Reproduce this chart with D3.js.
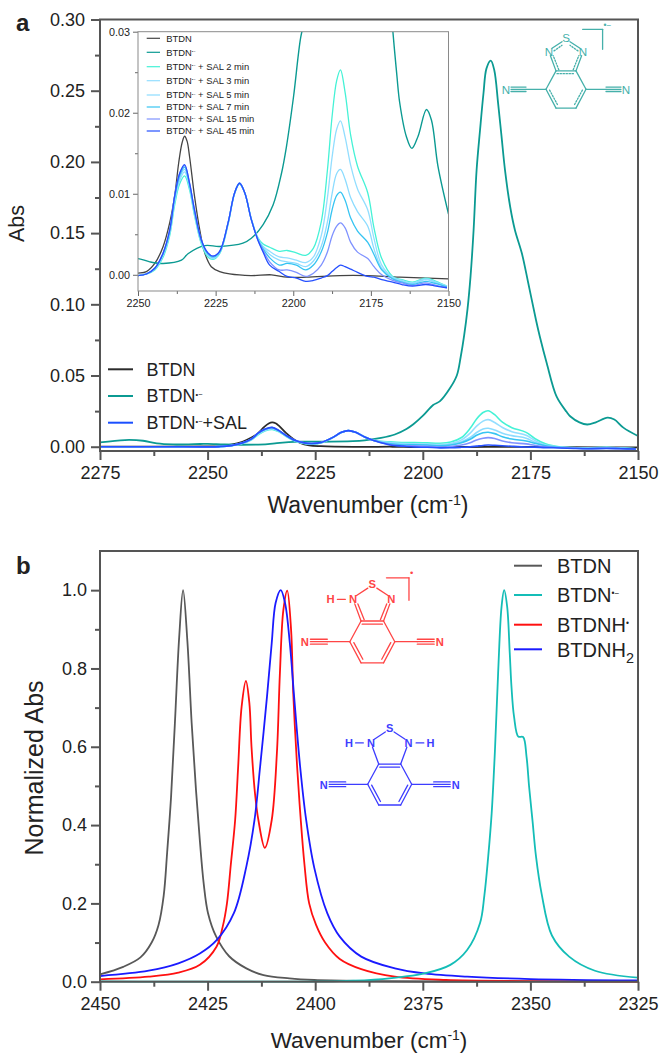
<!DOCTYPE html>
<html>
<head>
<meta charset="utf-8">
<script src="https://cdn.jsdelivr.net/npm/d3@7"></script>
<style>
  html, body { margin: 0; padding: 0; background: #fff; }
  svg { display: block; }
  text { font-family: "Liberation Sans", Arial, sans-serif; fill: #222; }
</style>
</head>
<body>
<div id="fig"></div>
<script>
// Panel a: spectra, wavenumber / absorbance
var btdn_wn = [2275, 2250, 2247.3, 2244.6, 2241.9, 2239.8, 2238.2, 2236.9, 2235.8, 2235, 2234.2, 2233.4, 2231.8, 2230.1, 2228.5, 2226.4, 2223.7, 2220.5, 2213.6, 2207, 2202, 2195.8, 2185, 2176.5, 2165.7, 2150];
var btdn_abs = [0.0, 0.0002, 0.0004, 0.0014, 0.0035, 0.0064, 0.0097, 0.0138, 0.0163, 0.0171, 0.0165, 0.0146, 0.0097, 0.0055, 0.0027, 0.001, 0.0004, 0.0001, -0.0001, 0.0, -0.0003, -0.0003, -0.0001, -0.0001, -0.0003, -0.0005];

var radical_wn = [2275, 2269.2, 2265, 2261.8, 2258, 2251.7, 2250, 2246.2, 2241.9, 2236, 2233.9, 2228.5, 2223.7, 2216.2, 2213.5, 2209.7, 2206.5, 2203.8, 2202.2, 2199.9, 2197.6, 2196, 2193.7, 2192.1, 2191.2, 2190.4, 2189.6, 2188.9, 2188.2, 2187.5, 2186.7, 2185.9, 2185.2, 2184.2, 2183.4, 2182.5, 2181.7, 2180.9, 2179.7, 2178.6, 2177, 2175.5, 2173.7, 2172.8, 2171.2, 2168.9, 2166.6, 2165.7, 2163.6, 2161.8, 2159.8, 2157.1, 2155.5, 2153.4, 2150];
var radical_abs = [0.003, 0.0047, 0.0042, 0.0023, 0.0016, 0.0019, 0.002, 0.0016, 0.0014, 0.0018, 0.0026, 0.0036, 0.0035, 0.0039, 0.0045, 0.0062, 0.0086, 0.0125, 0.0158, 0.022, 0.0293, 0.032, 0.041, 0.05, 0.063, 0.078, 0.097, 0.12, 0.152, 0.1943, 0.2224, 0.2482, 0.2657, 0.2711, 0.2645, 0.2411, 0.2177, 0.1943, 0.1685, 0.1522, 0.136, 0.115, 0.089, 0.0772, 0.0586, 0.0351, 0.0245, 0.0212, 0.0171, 0.0156, 0.0171, 0.0204, 0.0191, 0.0134, 0.0075];

var sal_wn = [2275, 2260, 2250, 2247.3, 2244.6, 2241.9, 2239.8, 2238.2, 2236.6, 2235, 2233.4, 2231.8, 2229.6, 2227.5, 2225.8, 2223.7, 2221, 2218.9, 2217.3, 2215.6, 2213.5, 2211.4, 2209.7, 2207.6, 2204.5, 2202, 2199, 2196, 2193.5, 2191, 2189, 2187.5, 2186, 2184.8, 2183.3, 2181.5, 2179.3, 2176, 2174, 2171.5, 2168, 2165, 2161.6, 2157.3, 2154, 2150.5];
var sal_2min = [0.0, 0.0, -0.0001, 0.0001, 0.0006, 0.0022, 0.0048, 0.0086, 0.0112, 0.0122, 0.0105, 0.0073, 0.0038, 0.0022, 0.0019, 0.0026, 0.0062, 0.01, 0.0112, 0.0101, 0.0069, 0.0046, 0.0038, 0.0034, 0.0029, 0.003, 0.0027, 0.0024, 0.0033, 0.0065, 0.0129, 0.0195, 0.024, 0.0253, 0.0225, 0.0172, 0.0134, 0.0101, 0.0058, 0.002, -0.0002, -0.0006, -0.0009, -0.0004, -0.0008, -0.0014];
var sal_3min = [0.0, 0.0, -0.0001, 0.0001, 0.0007, 0.0024, 0.0051, 0.009, 0.0116, 0.0127, 0.0108, 0.0075, 0.004, 0.0024, 0.002, 0.0027, 0.0063, 0.01, 0.0113, 0.0101, 0.0069, 0.0045, 0.0035, 0.0029, 0.0022, 0.0021, 0.0018, 0.0015, 0.0022, 0.0048, 0.0095, 0.0145, 0.018, 0.019, 0.017, 0.0135, 0.0106, 0.008, 0.0045, 0.0012, -0.0003, -0.0007, -0.001, -0.0005, -0.0009, -0.0014];
var sal_5min = [0.0, 0.0, -0.0001, 0.0001, 0.0007, 0.0025, 0.0052, 0.0092, 0.0119, 0.013, 0.011, 0.0077, 0.0041, 0.0025, 0.0021, 0.0028, 0.0063, 0.0101, 0.0113, 0.0101, 0.0068, 0.0044, 0.0034, 0.0025, 0.0018, 0.0016, 0.0014, 0.001, 0.0017, 0.0035, 0.0065, 0.01, 0.0125, 0.013, 0.0118, 0.0095, 0.0078, 0.006, 0.0032, 0.0008, -0.0004, -0.0008, -0.0011, -0.0006, -0.001, -0.0015];
var sal_7min = [0.0, 0.0, -0.0001, 0.0001, 0.0008, 0.0026, 0.0054, 0.0095, 0.0122, 0.0133, 0.0111, 0.0078, 0.0042, 0.0026, 0.0022, 0.0028, 0.0064, 0.0101, 0.0113, 0.0101, 0.0068, 0.0044, 0.0032, 0.0021, 0.0012, 0.0014, 0.0012, 0.0006, 0.0012, 0.0028, 0.0052, 0.008, 0.0098, 0.0102, 0.0092, 0.007, 0.0054, 0.004, 0.0025, 0.0006, -0.0005, -0.0009, -0.0012, -0.0008, -0.0011, -0.0015];
var sal_15min = [0.0, 0.0, -0.0001, 0.0001, 0.0008, 0.0027, 0.0055, 0.0097, 0.0125, 0.0135, 0.0113, 0.008, 0.0043, 0.0027, 0.0023, 0.0029, 0.0064, 0.0101, 0.0113, 0.0101, 0.0068, 0.0043, 0.003, 0.0016, 0.0006, 0.0006, 0.0003, -0.0002, 0.0002, 0.0012, 0.0028, 0.0048, 0.006, 0.0064, 0.0058, 0.004, 0.0028, 0.002, 0.001, 0.0, -0.0007, -0.001, -0.0013, -0.001, -0.0013, -0.0016];
var sal_45min = [0.0, 0.0, -0.0001, 0.0001, 0.0008, 0.0027, 0.0055, 0.0097, 0.0125, 0.0136, 0.0113, 0.008, 0.0043, 0.0027, 0.0023, 0.0029, 0.0064, 0.0101, 0.0113, 0.0101, 0.0068, 0.0043, 0.0028, 0.0012, 0.0004, -0.0002, -0.0004, -0.0008, -0.0007, -0.0004, -0.0001, 0.0004, 0.0009, 0.0012, 0.001, 0.0007, 0.0003, -0.0002, -0.0003, -0.0006, -0.0009, -0.0012, -0.0014, -0.0012, -0.0014, -0.0016];

var a_x_ticks = [2275, 2250, 2225, 2200, 2175, 2150];
var a_x_minor = [2262.5, 2237.5, 2212.5, 2187.5, 2162.5];
var a_y_ticks = [0, 0.05, 0.10, 0.15, 0.20, 0.25, 0.30];
var a_y_minor = [0.025, 0.075, 0.125, 0.175, 0.225, 0.275];
var inset_x_ticks = [2250, 2225, 2200, 2175, 2150];
var inset_x_minor = [2237.5, 2212.5, 2187.5, 2162.5];
var inset_y_ticks = [0, 0.01, 0.02, 0.03];
var inset_y_minor = [0.005, 0.015, 0.025];
var inset_names = ["2 min", "3 min", "5 min", "7 min", "15 min", "45 min"];

// Panel b: normalized spectra
var b_btdn_wn = [2450, 2444.6, 2440.6, 2438, 2436.4, 2435.2, 2434.4, 2433.5, 2432.6, 2431.6, 2430.7, 2429.7, 2428.7, 2427.7, 2426.8, 2425.9, 2424.9, 2423, 2420, 2416, 2412, 2406, 2400.2, 2389, 2374.6, 2325];
var b_btdn_abs = [0.0187, 0.038, 0.062, 0.1, 0.145, 0.22, 0.33, 0.47, 0.66, 0.88, 1.0, 0.87, 0.66, 0.49, 0.36, 0.25, 0.175, 0.115, 0.065, 0.034, 0.017, 0.0085, 0.0043, 0.0017, 0.0005, 0.0];
var b_rad_wn = [2450, 2394.3, 2384.4, 2374.6, 2368.6, 2364.7, 2361.7, 2360.7, 2359.8, 2359, 2358.2, 2357.5, 2356.7, 2356.1, 2355.4, 2354.8, 2354.4, 2353.8, 2352.8, 2351.7, 2350.9, 2350.3, 2349.5, 2348.7, 2347.4, 2345, 2341, 2335, 2325];
var b_rad_abs = [0.001, 0.0017, 0.0068, 0.021, 0.043, 0.081, 0.15, 0.22, 0.32, 0.43, 0.6, 0.788, 0.958, 1.0, 0.958, 0.84, 0.754, 0.677, 0.626, 0.625, 0.575, 0.498, 0.41, 0.32, 0.225, 0.118, 0.064, 0.028, 0.0102];
var b_nh_wn = [2450, 2438.7, 2431.8, 2426.8, 2422.9, 2421.5, 2420.5, 2419.6, 2418.6, 2417.9, 2417.1, 2416.1, 2415.3, 2414.8, 2414, 2413.2, 2411.7, 2410.1, 2408.9, 2408.2, 2407.4, 2406.5, 2405.6, 2405.1, 2404.2, 2403.4, 2402.5, 2401.4, 2399.8, 2397.7, 2394.3, 2389.3, 2381.5, 2369.6, 2350, 2325];
var b_nh_abs = [0.006, 0.0128, 0.023, 0.043, 0.09, 0.14, 0.2, 0.3, 0.413, 0.549, 0.702, 0.768, 0.712, 0.6, 0.482, 0.413, 0.342, 0.413, 0.584, 0.788, 0.949, 0.999, 0.898, 0.737, 0.549, 0.42, 0.3, 0.2, 0.145, 0.1, 0.058, 0.032, 0.0128, 0.0043, 0.0017, 0.0005];
var b_nh2_wn = [2450, 2438.7, 2431.8, 2426.8, 2422.9, 2418.9, 2416, 2414.1, 2412.8, 2411.2, 2410.1, 2409.2, 2408, 2407, 2405.9, 2404.9, 2403.5, 2402.1, 2400.2, 2397.2, 2394.3, 2389.3, 2381.5, 2374.6, 2364.7, 2350, 2325];
var b_nh2_abs = [0.0145, 0.028, 0.047, 0.072, 0.106, 0.175, 0.294, 0.413, 0.549, 0.728, 0.865, 0.967, 1.0, 0.967, 0.865, 0.728, 0.549, 0.413, 0.29, 0.175, 0.115, 0.064, 0.034, 0.021, 0.0128, 0.0068, 0.0034];

var b_x_ticks = [2450, 2425, 2400, 2375, 2350, 2325];
var b_x_minor = [2437.5, 2412.5, 2387.5, 2362.5, 2337.5];
var b_y_ticks = [0, 0.2, 0.4, 0.6, 0.8, 1.0];
var b_y_minor = [0.1, 0.3, 0.5, 0.7, 0.9];

// Colors
var c_black = "#2b2b2b", c_teal = "#0b9a92", c_gray = "#585858", c_cyan = "#14bdb7", c_red = "#ff1010", c_blue = "#1a1aff";
var sal_colors = ["#45f2d6", "#93deff", "#8cdcff", "#36c4f2", "#7f92ff", "#2650ff"];
var sal_series = [sal_2min, sal_3min, sal_5min, sal_7min, sal_15min, sal_45min];

var svg = d3.select("#fig").append("svg").attr("width", 666).attr("height", 1059);
var axis_color = "#555";

function spectrum(x, y) {
  return d3.line()
    .x(function(d) { return x(d[0]); })
    .y(function(d) { return y(d[1]); })
    .curve(d3.curveCatmullRom.alpha(0.5));
}

function drawLine(g, x, y, wn, abs, color, width) {
  g.append("path")
    .datum(d3.zip(wn, abs))
    .attr("fill", "none")
    .attr("stroke", color)
    .attr("stroke-width", width)
    .attr("stroke-linejoin", "round")
    .attr("d", spectrum(x, y));
}

// major and minor ticks plus the closed frame
function frame(g, x, y, cfg) {
  var w = x.range()[1], h = y.range()[0];
  var bottom = d3.axisBottom(x).tickValues(cfg.xt).tickFormat(d3.format("d")).tickSize(cfg.major).tickPadding(cfg.pad);
  var bottomMinor = d3.axisBottom(x).tickValues(cfg.xm).tickFormat("").tickSize(cfg.minor);
  var left = d3.axisLeft(y).tickValues(cfg.yt).tickFormat(d3.format(cfg.yf)).tickSize(cfg.major).tickPadding(cfg.ypad || cfg.pad);
  var leftMinor = d3.axisLeft(y).tickValues(cfg.ym).tickFormat("").tickSize(cfg.minor);
  [[bottom, true], [bottomMinor, true], [left, false], [leftMinor, false]].forEach(function(a) {
    var ax = g.append("g").call(a[0]);
    if (a[1]) ax.attr("transform", "translate(0," + h + ")");
    ax.select(".domain").remove();
    ax.selectAll("line").attr("stroke", cfg.color).attr("stroke-width", cfg.sw);
    ax.selectAll("text").attr("font-size", cfg.fs).attr("font-family", null).attr("fill", "#222");
  });
  g.append("rect").attr("width", w).attr("height", h)
    .attr("fill", "none").attr("stroke", cfg.frame || cfg.color).attr("stroke-width", cfg.sw);
}

function xlabel(g, cx, base, size) {
  var t = g.append("text").attr("x", cx).attr("y", base).attr("text-anchor", "middle").attr("font-size", size);
  t.append("tspan").text("Wavenumber (cm");
  t.append("tspan").attr("dy", -8).attr("font-size", size * 0.62).text("-1");
  t.append("tspan").attr("dy", 8).text(")");
}

function legendLine(g, x1, x2, yy, color, width) {
  g.append("line").attr("x1", x1).attr("x2", x2).attr("y1", yy).attr("y2", yy)
    .attr("stroke", color).attr("stroke-width", width);
}

function legendText(g, xx, yy, size, base, sup, rest, sub) {
  var t = g.append("text").attr("x", xx).attr("y", yy).attr("dy", "0.36em").attr("font-size", size);
  t.append("tspan").text(base);
  if (sup) t.append("tspan").attr("dy", -size * 0.3).attr("font-size", size * 0.42).text(sup);
  if (rest) t.append("tspan").attr("dy", sup ? size * 0.3 : 0).text(rest);
  if (sub) t.append("tspan").attr("dy", size * 0.3).attr("font-size", size * 0.72).text(sub);
}

//////////////// Panel a ////////////////
var a_w = 538, a_h = 431.5;
var a_g = svg.append("g").attr("transform", "translate(100,19.5)");
var a_x = d3.scaleLinear().domain([2275, 2150]).range([0, a_w]);
var a_y = d3.scaleLinear().domain([-0.003, 0.30]).range([a_h, 0]);

drawLine(a_g, a_x, a_y, btdn_wn, btdn_abs, c_black, 1.8);
drawLine(a_g, a_x, a_y, radical_wn, radical_abs, c_teal, 1.8);
sal_series.forEach(function(s, i) { drawLine(a_g, a_x, a_y, sal_wn, s, sal_colors[i], 1.6); });

frame(a_g, a_x, a_y, { xt: a_x_ticks, xm: a_x_minor, yt: a_y_ticks, ym: a_y_minor, yf: ".2f",
  major: 9, minor: 5, pad: 6, fs: 18, sw: 2, color: axis_color });

// Inset
var in_w = 310.5, in_h = 259.3;
var in_g = svg.append("g").attr("transform", "translate(138,31.7)");
var in_x = d3.scaleLinear().domain([2250, 2150]).range([0, in_w]);
var in_y = d3.scaleLinear().domain([-0.002, 0.03]).range([in_h, 0]);
svg.append("defs").append("clipPath").attr("id", "in-clip")
  .append("rect").attr("width", in_w).attr("height", in_h);
var in_plot = in_g.append("g").attr("clip-path", "url(#in-clip)");
drawLine(in_plot, in_x, in_y, btdn_wn, btdn_abs, "#444", 1.3);
drawLine(in_plot, in_x, in_y, radical_wn, radical_abs, c_teal, 1.4);
sal_series.forEach(function(s, i) { drawLine(in_plot, in_x, in_y, sal_wn, s, sal_colors[i], 1.3); });

frame(in_g, in_x, in_y, { xt: inset_x_ticks, xm: inset_x_minor, yt: inset_y_ticks, ym: inset_y_minor, yf: ".2f",
  major: 5, minor: 3, pad: 3, fs: 10.8, sw: 1, color: "#666", frame: "#8a8a8a" });
in_g.selectAll("text").attr("fill", "#444");

// Inset legend
legendLine(svg, 146.7, 160, 38.3, "#444", 1.2);
legendText(svg, 166.3, 38.3, 9.4, "BTDN");
legendLine(svg, 146.7, 160, 52.3, c_teal, 1.2);
legendText(svg, 166.3, 52.3, 9.4, "BTDN", "•−");
var inset_y_pos = [66.7, 80.7, 95, 107, 119, 131];
inset_names.forEach(function(n, i) {
  legendLine(svg, 146.7, 160, inset_y_pos[i], sal_colors[i], 1.2);
  legendText(svg, 166.3, inset_y_pos[i], 9.4, "BTDN", "•−", " + SAL " + n);
});

// Main legend
legendLine(svg, 108, 133, 369.3, c_black, 2);
legendText(svg, 146.5, 369.3, 18, "BTDN");
legendLine(svg, 108, 133, 396, c_teal, 2);
legendText(svg, 146.5, 396, 18, "BTDN", "•−");
legendLine(svg, 108, 133, 422.7, "#1a4fff", 2);
legendText(svg, 146.5, 422.7, 18, "BTDN", "•−", "+SAL");

svg.append("text").attr("x", 16).attr("y", 31).attr("font-size", 24).attr("font-weight", "bold").attr("fill", "#111").text("a");
svg.append("text").attr("transform", "translate(24,223.5) rotate(-90)").attr("text-anchor", "middle").attr("font-size", 21.5).text("Abs");
xlabel(svg, 368, 513, 23);

//////////////// Panel b ////////////////
var b_w = 538, b_h = 430.7;
var b_g = svg.append("g").attr("transform", "translate(100,551)");
var b_x = d3.scaleLinear().domain([2450, 2325]).range([0, b_w]);
var b_y = d3.scaleLinear().domain([0, 1.1]).range([b_h, 0]);

drawLine(b_g, b_x, b_y, b_btdn_wn, b_btdn_abs, c_gray, 1.8);
drawLine(b_g, b_x, b_y, b_nh_wn, b_nh_abs, c_red, 1.8);
drawLine(b_g, b_x, b_y, b_nh2_wn, b_nh2_abs, c_blue, 1.8);
drawLine(b_g, b_x, b_y, b_rad_wn, b_rad_abs, c_cyan, 1.8);

frame(b_g, b_x, b_y, { xt: b_x_ticks, xm: b_x_minor, yt: b_y_ticks, ym: b_y_minor, yf: ".1f",
  major: 9, minor: 5, pad: 7, ypad: 4, fs: 18, sw: 2, color: axis_color });

legendLine(svg, 514, 542, 565.7, c_gray, 2);
legendText(svg, 557, 565.7, 20, "BTDN");
legendLine(svg, 514, 542, 595, c_cyan, 2);
legendText(svg, 557, 595, 20, "BTDN", "•−");
legendLine(svg, 514, 542, 624.7, c_red, 2);
legendText(svg, 557, 624.7, 20, "BTDNH", "•");
legendLine(svg, 514, 542, 649.3, c_blue, 2);
legendText(svg, 557, 649.3, 20, "BTDNH", null, null, "2");

svg.append("text").attr("x", 16).attr("y", 574).attr("font-size", 24).attr("font-weight", "bold").attr("fill", "#111").text("b");
svg.append("text").attr("transform", "translate(43,768) rotate(-90)").attr("text-anchor", "middle").attr("font-size", 25).text("Normalized Abs");
xlabel(svg, 369, 1048, 22.5);

//////////////// Molecules ////////////////
// unit = half width of the benzene ring, origin at ring centre
function molecule(cx, cy, r, color, kind, bx, by) {
  var g = svg.append("g").attr("transform", "translate(" + cx + "," + cy + ")")
    .attr("stroke", color).attr("stroke-width", 1.3).attr("fill", "none").attr("stroke-linecap", "round");
  function seg(a, b, c, d, dash) {
    var l = g.append("line").attr("x1", a * r).attr("y1", b * r).attr("x2", c * r).attr("y2", d * r);
    if (dash) l.attr("stroke-dasharray", "1.4,1.6");
    return l;
  }
  function label(x, y, s) {
    g.append("text").attr("x", x * r).attr("y", y * r).attr("dy", "0.36em").attr("text-anchor", "middle")
      .attr("font-size", kind == "radical" ? r * 0.58 : r * 0.5).attr("font-weight", kind == "radical" ? "normal" : "bold")
      .attr("stroke", "none").style("fill", color).text(s);
  }
  var dashed = kind == "radical";
  // ring
  seg(-1, 0, -0.5, -0.92); seg(-0.5, -0.92, 0.5, -0.92); seg(0.5, -0.92, 1, 0);
  seg(1, 0, 0.5, 0.94); seg(0.5, 0.94, -0.5, 0.94); seg(-0.5, 0.94, -1, 0);
  // inner bonds of the ring
  seg(-0.45, -0.78, 0.45, -0.78, dashed);
  seg(-0.82, 0.04, -0.42, 0.78, dashed);
  seg(0.82, 0.04, 0.42, 0.78, dashed);
  // five membered ring
  seg(-0.5, -0.92, -0.78, -1.68); seg(0.5, -0.92, 0.78, -1.68);
  if (kind != "dihydro") {
    seg(-0.36, -0.98, -0.64, -1.68, dashed);
    seg(0.36, -0.98, 0.64, -1.68, dashed);
  }
  seg(-0.7, -2.05, -0.2, -2.38); seg(0.7, -2.05, 0.2, -2.38);
  if (kind == "radical") { seg(-0.6, -1.92, -0.2, -2.2, true); seg(0.6, -1.92, 0.2, -2.2, true); }
  label(-0.85, -1.88, "N"); label(0.85, -1.88, "N"); label(0, -2.55, "S");
  if (kind != "radical") { seg(-1.2, -1.88, -1.55, -1.88); label(-1.85, -1.88, "H"); }
  if (kind == "dihydro") { seg(1.2, -1.88, 1.55, -1.88); label(1.85, -1.88, "H"); }
  // nitriles
  [-1, 1].forEach(function(s) {
    seg(s, 0, s * 2, 0);
    seg(s * 2, 0, s * 2.75, 0);
    seg(s * 2, -0.11, s * 2.75, -0.11);
    seg(s * 2, 0.11, s * 2.75, 0.11);
    label(s * 3.0, 0.03, "N");
  });
  // bracket of the charged species
  if (kind != "dihydro") {
    seg(bx - 1, by, bx, by); seg(bx, by, bx, by + 1);
    g.append("text").attr("x", (bx + 0.05) * r).attr("y", (by - 0.08) * r).attr("font-size", r * 0.42).attr("stroke", "none").style("fill", color)
      .text(kind == "radical" ? "•−" : "•");
  }
}
molecule(566, 89.3, 20, "#45b0aa", "radical", 1.83, -3.0);
molecule(372.3, 641.7, 22.5, "#ff4545", "anion", 1.63, -2.84);
molecule(389.7, 784.3, 22, "#3d3dff", "dihydro");
</script>
</body>
</html>
